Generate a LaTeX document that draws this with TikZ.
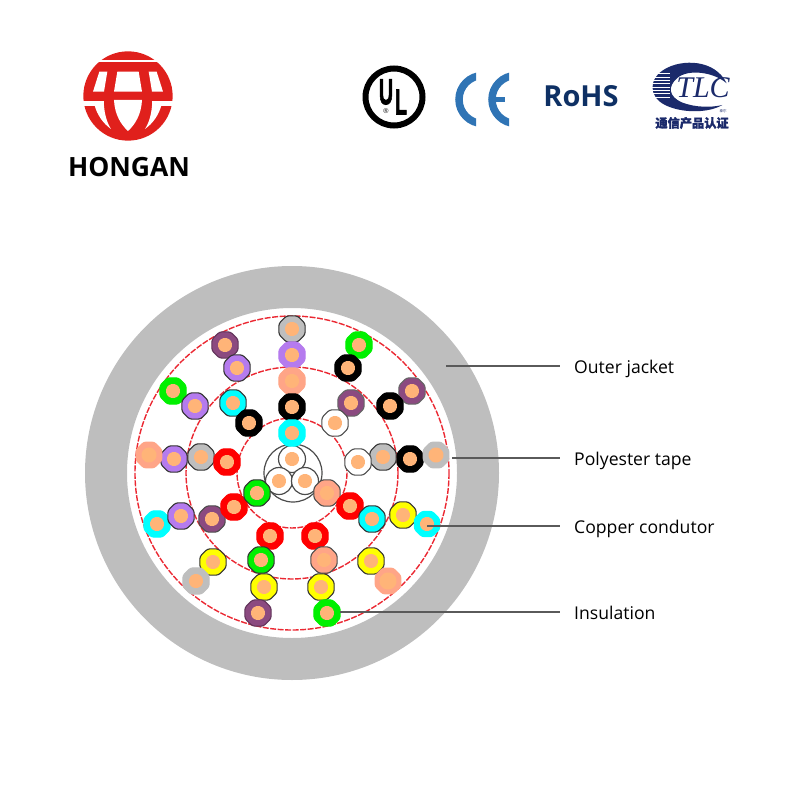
\documentclass[tikz,border=0pt]{standalone}
\usepackage{fontspec}
\setmainfont{Open Sans}
\newfontfamily\timesfont{Liberation Serif}
\newfontfamily\ulfont[BoldFeatures={FakeBold=2.5}]{Liberation Sans}
\newfontfamily\arialfont{Liberation Sans}
\newfontfamily\cjkfont[BoldFeatures={FakeBold=1.5}]{Noto Sans CJK SC}
\usetikzlibrary{shapes.geometric}
\definecolor{logored}{RGB}{224,32,28}
\definecolor{ceblue}{RGB}{47,116,181}
\definecolor{rohsblue}{RGB}{14,48,100}
\definecolor{tlcblue}{RGB}{27,42,107}
\definecolor{jacketgrey}{RGB}{190,190,190}
\definecolor{tapered}{RGB}{235,40,50}
\definecolor{leadergrey}{RGB}{90,90,90}
\definecolor{corepeach}{RGB}{255,180,120}
\definecolor{wirepurple}{RGB}{181,123,238}
\definecolor{wiremauve}{RGB}{139,74,128}
\definecolor{wiregreen}{RGB}{0,240,0}
\definecolor{wirepeach}{RGB}{255,165,135}
\definecolor{wiregrey}{RGB}{190,190,190}
\definecolor{wirecyan}{RGB}{0,255,255}
\definecolor{wireyellow}{RGB}{255,255,0}
\definecolor{wirered}{RGB}{255,0,0}
\tikzset{
  wire/.style={regular polygon, regular polygon sides=8, minimum size=28.5pt, rounded corners=2.5pt,
    inner sep=0pt, outer sep=0pt, line width=1.1pt},
  core/.style={regular polygon, regular polygon sides=8, minimum size=15pt, rounded corners=1.5pt,
    inner sep=0pt, outer sep=0pt, fill=corepeach},
  tape/.style={tapered, line width=1.4pt, dash pattern=on 6pt off 1.5pt},
  leader/.style={leadergrey, line width=1.6pt},
  partlabel/.style={anchor=west, inner sep=0pt, text height=14pt, text depth=0pt,
    font=\fontsize{17.6}{22}\selectfont},
  strand/.style={circle, draw=black!70, line width=1.2pt, fill=white, minimum size=27pt,
    inner sep=0pt, outer sep=0pt}
}
\begin{document}
\begin{tikzpicture}[x=1pt, y=-1pt]
  \useasboundingbox (0,0) rectangle (800,800);

  % company logo
  \begin{scope}[x=0.3333pt, y=-0.3333pt, xshift=78pt, yshift=-45pt]
    \fill[logored] (150,153) circle (134);
    \fill[white] (0,45) rectangle (300,52);
    \fill[white] (0,167) rectangle (78,182);
    \fill[white] (300,167) rectangle (222,182);
    \fill[white] (64,80) -- (88,80) -- (78,140) -- (45,140) -- cycle;
    \fill[white] (236,80) -- (212,80) -- (222,140) -- (255,140) -- cycle;
    \fill[white] (118,80) -- (182,80) -- (192,140) -- (108,140) -- cycle;
    \fill[white] (108,165) -- (192,165) .. controls (190,210) and (170,240) .. (150,258)
      .. controls (130,240) and (110,210) .. (108,165) -- cycle;
    \fill[white] (50,182) -- (78,182) .. controls (80,210) and (88,235) .. (99,252)
      .. controls (75,235) and (58,210) .. (50,182) -- cycle;
    \fill[white] (250,182) -- (222,182) .. controls (220,210) and (212,235) .. (201,252)
      .. controls (225,235) and (242,210) .. (250,182) -- cycle;
  \end{scope}
  \node[font=\fontsize{26.5}{30}\selectfont\bfseries, inner sep=0pt] (brand) at (129,167) {HONGAN};

  % UL mark
  \draw[black, line width=6pt] (394,97) circle (28.5);
  \node[font=\ulfont\bfseries\fontsize{36}{36}\selectfont, xscale=0.55, inner sep=0pt] (ulu) at (386,92) {U};
  \node[font=\ulfont\bfseries\fontsize{36}{36}\selectfont, xscale=0.55, inner sep=0pt] (ull) at (401,102) {L};
  \node[font=\arialfont\fontsize{7}{7}\selectfont, inner sep=0pt] (ulr) at (386,111.5) {\textregistered};

  % CE mark
  \begin{scope}
    \clip (450,68) rectangle (476,131);
    \draw[ceblue, line width=7.5pt] (483,99.5) circle (24);
  \end{scope}
  \begin{scope}
    \clip (484,68) rectangle (509,131);
    \draw[ceblue, line width=7.5pt] (516,99.5) circle (24);
  \end{scope}
  \fill[ceblue] (490,96.5) rectangle (505,101.5);

  \node[font=\bfseries\fontsize{29}{30}\selectfont, text=rohsblue, inner sep=0pt] (rohs) at (581,96) {RoHS};

  % TLC mark
  \begin{scope}[x=0.3333pt, y=-0.3333pt, xshift=645pt, yshift=-55pt]
    \fill[tlcblue] (232,150) .. controls (190,175) and (110,175) .. (60,150)
      .. controls (10,125) and (10,70) .. (60,42)
      .. controls (110,12) and (210,12) .. (245,85)
      .. controls (205,50) and (130,42) .. (98,68)
      .. controls (66,95) and (72,125) .. (110,142)
      .. controls (150,158) and (200,158) .. (232,150) -- cycle;
    \foreach \ypos in {56,66,76,86,96,106,116,126}
      \draw[white, line width=0.7pt] (15,\ypos) -- (76,\ypos);
  \end{scope}
  \node[font=\timesfont\itshape\fontsize{30}{30}\selectfont, text=tlcblue, inner sep=0pt] (tlc) at (703,88) {TLC};
  \node[font=\cjkfont\bfseries\fontsize{12.2}{12}\selectfont, text=tlcblue, inner sep=0pt] (tlccn) at (692,123) {通信产品认证};
  \node[font=\cjkfont\fontsize{3.5}{4}\selectfont, text=tlcblue, inner sep=0pt] (tlcsmall) at (723,111.5) {泰尔};

  % cable
  \fill[jacketgrey, even odd rule] (292,473) circle (207) (292,473) circle (165);
  \draw[tape] (292,473) circle (157);
  \draw[tape] (292,473) circle (106);
  \draw[tape] (292,473) circle (55);

  \draw[black!70, line width=1.2pt] (293,473) circle (29);
  \foreach \x/\y [count=\i] in {292/459, 279/481, 305/481} {
    \node[strand] (s\i) at (\x,\y) {};
    \node[core] (sc\i) at (s\i) {};
  }

  \foreach \x/\y/\c/\e [count=\i] in {
    225/345/wiremauve/wiremauve!70!black, 237/368/wirepurple/black!80, 173/391/wiregreen/wiregreen,
    195/406/wirepurple/black!80, 233/403/wirecyan/black!80, 249/423/black/black,
    174/459/wirepurple/black!80, 201/457/wiregrey/black!80, 227/462/wirered/wirered,
    292/329/wiregrey/black!80, 292/355/wirepurple/wirepurple, 292/381/wirepeach/wirepeach,
    292/407/black/black, 292/433/wirecyan/wirecyan,
    359/345/wiregreen/wiregreen, 348/368/black/black, 412/391/wiremauve/black!60,
    390/406/black/black, 351/403/wiremauve/black!60, 335/423/white/black!70,
    410/459/black/black, 383/457/wiregrey/black!80, 358/462/white/black!70,
    157/524/wirecyan/wirecyan, 181/516/wirepurple/black!80, 212/519/wiremauve/black!70,
    234/507/wirered/wirered, 257/493/wiregreen/black!80, 270/536/wirered/wirered,
    261/560/wiregreen/black!80, 264/587/wireyellow/black!80, 258/613/wiremauve/wiremauve!70!black,
    213/562/wireyellow/black!80, 196/581/wiregrey/wiregrey,
    327/493/wirepeach/black!70, 350/506/wirered/wirered, 372/519/wirecyan/black!80,
    403/515/wireyellow/black!80, 315/536/wirered/wirered, 324/560/wirepeach/black!70,
    321/587/wireyellow/black!80, 371/561/wireyellow/black!80} {
    \node[wire, fill=\c, draw=\e] (w\i) at (\x,\y) {};
    \node[core] (c\i) at (w\i) {};
  }

  \node[wire, fill=wirepeach, minimum size=29pt] (peachleft) at (149,455) {};
  \node[core, minimum size=16pt] (peachleftcore) at (peachleft) {};
  \node[wire, fill=wiregrey, minimum size=29pt] (greyright) at (436,455) {};
  \node[core, minimum size=16pt] (greyrightcore) at (greyright) {};
  \node[wire, fill=wirepeach, minimum size=29pt] (peachlow) at (388,581) {};
  \node[core, minimum size=18pt] (peachlowcore) at (peachlow) {};
  \node[wire, fill=wirecyan] (copperwire) at (427,524) {};
  \node[core] (coppercore) at (copperwire) {};
  \node[wire, fill=wiregreen, draw=wiregreen] (insulationwire) at (327,613) {};
  \node[core] (insulationcore) at (insulationwire) {};

  % part labels
  \coordinate (jackettip) at (446,366);
  \coordinate (tapetip) at (452,458);
  \node[partlabel] (jacket) at (574,366) {Outer jacket};
  \node[partlabel] (polyester) at (574,458) {Polyester tape};
  \node[partlabel] (copper) at (574,526) {Copper condutor};
  \node[partlabel] (insulation) at (574,612) {Insulation};

  \draw[leader, shorten >=14pt] (coppercore.center |- copper.west) -- (copper.west);
  \draw[leader, shorten >=14pt] (jackettip) -- (jacket.west);
  \draw[leader, shorten >=14pt] (tapetip) -- (polyester.west);
  \draw[leader, shorten >=14pt] (insulationwire.east |- insulation.west) -- (insulation.west);
\end{tikzpicture}
\end{document}
